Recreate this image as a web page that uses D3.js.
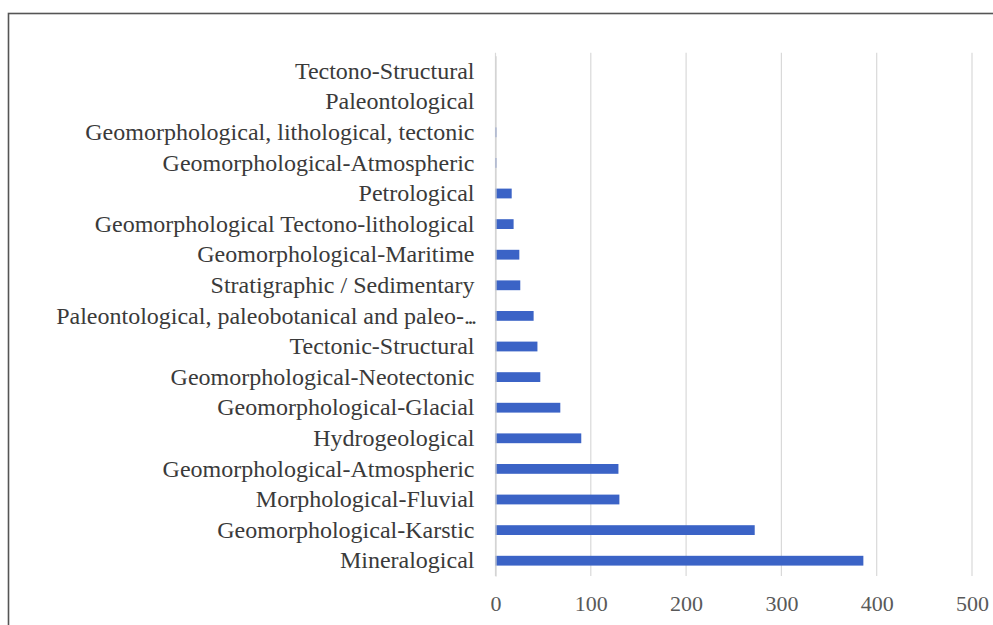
<!DOCTYPE html>
<html>
<head>
<meta charset="utf-8">
<script src="https://cdn.jsdelivr.net/npm/d3@7"></script>
<style>
  html, body { margin: 0; padding: 0; background: #fff; }
  svg { display: block; }
</style>
</head>
<body>
<svg id="chart" width="993" height="625"></svg>
<script>
// Geosite types and the number of sites of each type
const categories = [
  "Tectono-Structural",
  "Paleontological",
  "Geomorphological, lithological, tectonic",
  "Geomorphological-Atmospheric",
  "Petrological",
  "Geomorphological Tectono-lithological",
  "Geomorphological-Maritime",
  "Stratigraphic / Sedimentary",
  "Paleontological, paleobotanical and paleo-\u2026",
  "Tectonic-Structural",
  "Geomorphological-Neotectonic",
  "Geomorphological-Glacial",
  "Hydrogeological",
  "Geomorphological-Atmospheric ",
  "Morphological-Fluvial",
  "Geomorphological-Karstic",
  "Mineralogical"
];
const counts = [0, 0, 1, 1, 17, 19, 25, 26, 40, 44, 47, 68, 90, 129, 130, 272, 386];
const xTicks = [0, 100, 200, 300, 400, 500];

const svg = d3.select("#chart");
const font = "'Liberation Serif', 'Times New Roman', serif";

// outer frame
svg.append("rect")
  .attr("x", 8.5).attr("y", 13.5)
  .attr("width", 1000).attr("height", 700)
  .attr("fill", "#fff")
  .attr("stroke", "#555").attr("stroke-width", 1.6);

const plot = { left: 495.5, right: 972, top: 55.8, bottom: 576 };

const x = d3.scaleLinear().domain([0, 500]).range([plot.left, plot.right]);
const y = d3.scaleBand().domain(categories).range([plot.top, plot.bottom])
  .paddingInner(0.68).paddingOuter(0.34);

// vertical gridlines
svg.append("g")
  .selectAll("line")
  .data(xTicks)
  .join("line")
  .attr("x1", d => x(d)).attr("x2", d => x(d))
  .attr("y1", plot.top - 3).attr("y2", plot.bottom)
  .attr("stroke", "#d9d9d9").attr("stroke-width", 1.2);

// bars
svg.append("g")
  .selectAll("rect")
  .data(categories.map((c, i) => ({ c, v: counts[i] })))
  .join("rect")
  .attr("x", x(0))
  .attr("y", d => y(d.c))
  .attr("width", d => x(d.v) - x(0))
  .attr("height", y.bandwidth())
  .attr("fill", "#3b63c6");

// category axis
const yAxis = svg.append("g")
  .attr("transform", `translate(${plot.left},0)`)
  .call(d3.axisLeft(y).tickSize(0).tickPadding(21));
yAxis.select(".domain").attr("stroke", "#d0d0d0").attr("stroke-width", 1.2);
yAxis.selectAll("text")
  .attr("font-family", font).attr("font-size", 24)
  .attr("fill", "#3a3a3a")
  .each(function (d) {
    // truncated labels: draw the trailing ellipsis as tightly packed dots
    if (d.endsWith("\u2026")) {
      const t = d3.select(this).text(d.slice(0, -1));
      t.append("tspan").attr("letter-spacing", -2.5).text("...");
    }
  });

// value axis labels
const xAxis = svg.append("g")
  .attr("transform", `translate(0,${plot.bottom})`)
  .call(d3.axisBottom(x).tickValues(xTicks).tickSize(0).tickPadding(19));
xAxis.select(".domain").remove();
xAxis.selectAll("text")
  .attr("font-family", font).attr("font-size", 22)
  .attr("fill", "#595959");
</script>
</body>
</html>
